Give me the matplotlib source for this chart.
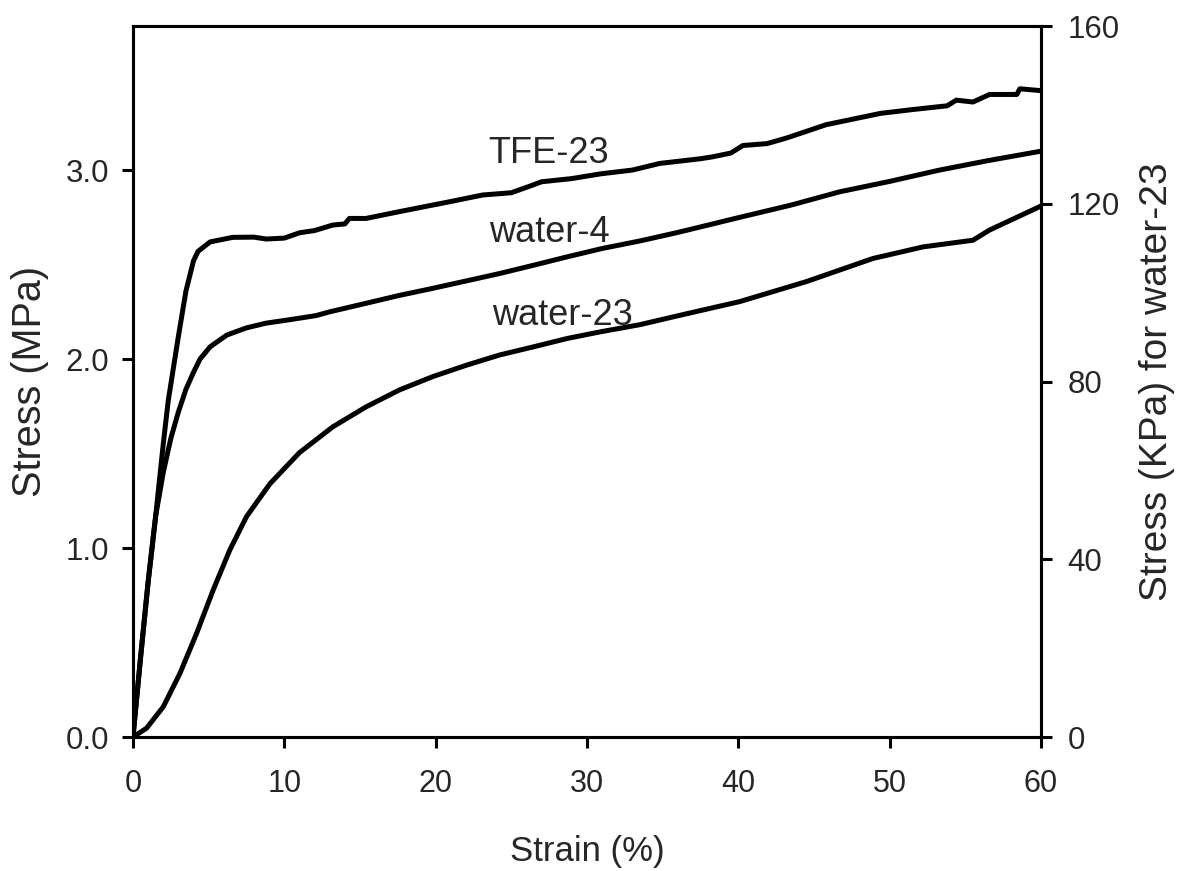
import matplotlib.pyplot as plt

plt.rcParams['font.family'] = ['Liberation Sans', 'DejaVu Sans']

# TFE-23, MPa (left axis)
tfe_strain = [0, 0.5, 1.0, 1.5, 2.0, 2.33, 3.0, 3.5, 4.0, 4.3, 5.1, 6.6, 8.0, 8.8,
              10.0, 11.0, 12.0, 13.2, 14.0, 14.3, 15.4, 17.6, 19.5, 20.9, 23.1, 25.0,
              26.4, 27.0, 29.0, 30.9, 33.0, 34.8, 37.5, 38.3, 39.5, 40.3, 41.9, 43.2,
              45.8, 49.4, 51.5, 53.8, 54.4, 55.5, 56.6, 58.4, 58.6, 60.0]
tfe_stress = [0, 0.42, 0.82, 1.17, 1.55, 1.78, 2.12, 2.36, 2.52, 2.57, 2.62, 2.644,
              2.645, 2.635, 2.64, 2.668, 2.68, 2.709, 2.715, 2.744, 2.744, 2.78, 2.81,
              2.832, 2.868, 2.88, 2.92, 2.938, 2.955, 2.98, 3.0, 3.035, 3.06, 3.07,
              3.09, 3.13, 3.14, 3.17, 3.24, 3.30, 3.32, 3.34, 3.37, 3.36, 3.40, 3.40,
              3.43, 3.42]

# water-4, MPa (left axis)
w4_strain = [0, 0.5, 1.0, 1.5, 2.0, 2.5, 3.0, 3.5, 4.0, 4.43, 5.1, 6.2, 7.5, 8.8,
             10.5, 12.1, 13.0, 15.4, 17.5, 19.8, 22.0, 24.25, 26.5, 28.7, 31.0, 33.5,
             36.0, 40.1, 43.5, 46.7, 50.0, 53.3, 56.5, 60.0]
w4_stress = [0, 0.42, 0.82, 1.17, 1.40, 1.58, 1.72, 1.84, 1.93, 2.0, 2.065, 2.127,
             2.165, 2.19, 2.21, 2.23, 2.25, 2.295, 2.335, 2.374, 2.413, 2.453, 2.497,
             2.541, 2.585, 2.625, 2.67, 2.75, 2.815, 2.885, 2.94, 3.0, 3.05, 3.10]

# water-23, KPa (right axis)
w23_strain = [0, 0.9, 2.0, 3.1, 4.2, 5.3, 6.4, 7.5, 9.05, 11.0, 13.2, 15.4, 17.6,
              19.8, 22.05, 24.25, 26.45, 28.7, 30.9, 33.5, 36.0, 40.1, 44.5, 48.9,
              52.2, 55.5, 56.6, 60.0]
w23_stress = [0, 2.0, 6.8, 14.3, 23.3, 33.1, 42.1, 49.6, 57.0, 64.0, 69.8, 74.3,
              78.1, 81.1, 83.7, 86.0, 87.8, 89.7, 91.2, 92.8, 94.8, 98.0, 102.5,
              107.7, 110.3, 111.8, 114.1, 119.5]

x_ticks = [0, 10, 20, 30, 40, 50, 60]
left_ticks = [0.0, 1.0, 2.0, 3.0]
right_ticks = [0, 40, 80, 120, 160]

txt = '#262626'

fig = plt.figure(figsize=(11.81, 8.71), dpi=100)
ax = fig.add_axes([0.1126, 0.1538, 0.7689, 0.8163])
ax2 = ax.twinx()

ax.plot(tfe_strain, tfe_stress, color='black', lw=3.6)
ax.plot(w4_strain, w4_stress, color='black', lw=3.6)
ax2.plot(w23_strain, w23_stress, color='black', lw=3.6)

ax.set_xlim(0, 60)
ax.set_ylim(0, 3.762)
ax2.set_ylim(0, 160)

ax.set_xticks(x_ticks)
ax.set_yticks(left_ticks)
ax.set_yticklabels([f'{v:.1f}' for v in left_ticks])
ax2.set_yticks(right_ticks)

for a in (ax, ax2):
    for s in a.spines.values():
        s.set_linewidth(2.2)
        s.set_color('black')

ax.tick_params(axis='x', direction='out', length=8, width=2.2, pad=15,
               labelsize=22, labelcolor=txt)
ax.tick_params(axis='y', direction='out', length=8, width=2.2, pad=9,
               labelsize=22.5, labelcolor=txt)
ax2.tick_params(axis='y', direction='out', length=8, width=2.2, pad=11,
                labelsize=22.5, labelcolor=txt)

ax.set_xlabel('Strain (%)', fontsize=25, color=txt, labelpad=26)
ax.set_ylabel('Stress (MPa)', fontsize=28.5, color=txt, labelpad=12)
ax2.set_ylabel('Stress (KPa) for water-23', fontsize=28, color=txt, labelpad=14)

ax.text(23.5, 3.09, 'TFE-23', fontsize=26, color=txt, ha='left', va='center')
ax.text(23.5, 2.67, 'water-4', fontsize=26, color=txt, ha='left', va='center')
ax.text(23.7, 2.23, 'water-23', fontsize=26, color=txt, ha='left', va='center')

fig.savefig('out.png', dpi=100, facecolor='white')
